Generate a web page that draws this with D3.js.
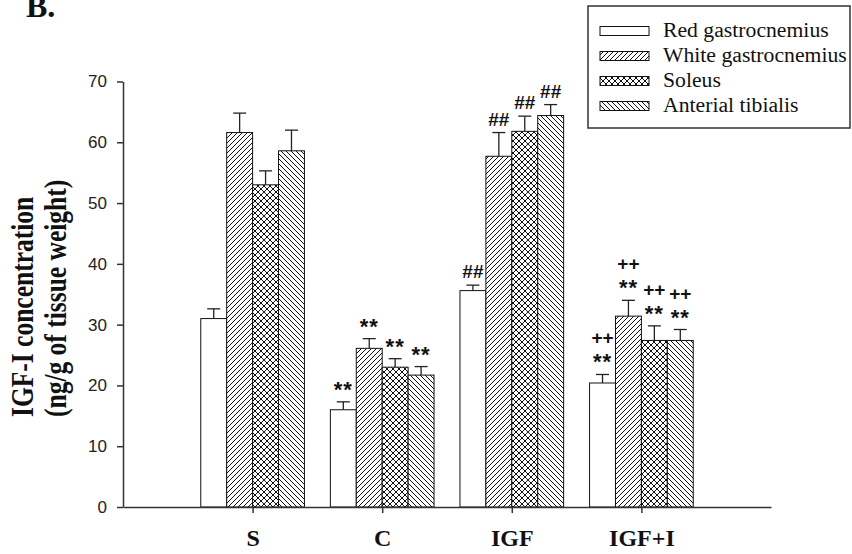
<!DOCTYPE html>
<html><head><meta charset="utf-8">
<script src="https://cdn.jsdelivr.net/npm/d3@7"></script>
<style>body{margin:0;background:#fff}svg{display:block}</style>
</head><body><svg id="c" width="852" height="554"></svg>
<script>
const categories = ["S", "C", "IGF", "IGF+I"];
const seriesNames = ["Red gastrocnemius", "White gastrocnemius", "Soleus", "Anterial tibialis"];
const redValues    = [31.0, 16.0, 35.6, 20.4];
const whiteValues  = [61.6, 26.1, 57.7, 31.4];
const soleusValues = [53.0, 23.0, 61.8, 27.4];
const atValues     = [58.6, 21.7, 64.4, 27.4];
const redErr    = [1.6, 1.3, 0.9, 1.4];
const whiteErr  = [3.2, 1.6, 3.9, 2.6];
const soleusErr = [2.3, 1.4, 2.5, 2.4];
const atErr     = [3.4, 1.4, 1.8, 1.8];
// significance marks: [lower line, upper line] per group
const redMarks    = [[], ["**"], ["##"], ["**", "++"]];
const whiteMarks  = [[], ["**"], ["##"], ["**", "++"]];
const soleusMarks = [[], ["**"], ["##"], ["**", "++"]];
const atMarks     = [[], ["**"], ["##"], ["**", "++"]];
const yTicks = [0, 10, 20, 30, 40, 50, 60, 70];
const yTitle = ["IGF-I concentration", "(ng/g of tissue weight)"];
const panelLabel = "B.";

const series = [
  {name: seriesNames[0], values: redValues, err: redErr, marks: redMarks, fill: "#fff"},
  {name: seriesNames[1], values: whiteValues, err: whiteErr, marks: whiteMarks, fill: "url(#pFwd)"},
  {name: seriesNames[2], values: soleusValues, err: soleusErr, marks: soleusMarks, fill: "url(#pCross)"},
  {name: seriesNames[3], values: atValues, err: atErr, marks: atMarks, fill: "url(#pBack)"}
];

const svg = d3.select("#c");
const defs = svg.append("defs");
function pat(id, w, d) {
  const p = defs.append("pattern").attr("id", id).attr("patternUnits", "userSpaceOnUse")
    .attr("width", w).attr("height", w);
  p.append("rect").attr("width", w).attr("height", w).attr("fill", "#fff");
  p.append("path").attr("d", d).attr("stroke", "#111").attr("stroke-width", 1).attr("fill", "none");
}
pat("pFwd", 5, "M-1,1 L1,-1 M0,5 L5,0 M4,6 L6,4");
pat("pBack", 5, "M-1,4 L1,6 M0,0 L5,5 M4,-1 L6,1");
pat("pCross", 6, "M0,0 L6,6 M6,0 L0,6 M-1,1 L1,-1 M5,7 L7,5 M-1,5 L1,7 M5,-1 L7,1");

const x = d3.scalePoint().domain(categories).range([123, 771]).padding(1);
const y = d3.scaleLinear().domain([0, 70]).range([507, 81.5]);
const bw = x.step() * 0.2;

// Bars
series.forEach((s, si) => {
  const g = svg.append("g");
  categories.forEach((c, ci) => {
    const x0 = x(c) + (si - 2) * bw;
    const v = s.values[ci], e = s.err[ci];
    const cx = x0 + bw / 2;
    g.append("line").attr("x1", cx).attr("x2", cx).attr("y1", y(v)).attr("y2", y(v + e))
      .attr("stroke", "#222").attr("stroke-width", 1.3);
    g.append("line").attr("x1", cx - 6.5).attr("x2", cx + 6.5).attr("y1", y(v + e)).attr("y2", y(v + e))
      .attr("stroke", "#222").attr("stroke-width", 1.3);
    g.append("rect").attr("x", x0).attr("y", y(v)).attr("width", bw).attr("height", y(0) - y(v))
      .attr("fill", s.fill).attr("stroke", "#111").attr("stroke-width", 1);
    s.marks[ci].forEach((m, mi) => {
      const star = m === "**";
      g.append("text").attr("x", cx).attr("y", y(v + e) - 7 - mi * 23 + (star ? 2 : 0))
        .attr("text-anchor", "middle").attr("font-family", "Liberation Sans, Arial, sans-serif")
        .attr("font-weight", "bold").attr("font-size", star ? 22 : 19)
        .attr("letter-spacing", star ? 1 : 0).attr("fill", "#111").text(m);
    });
  });
});

// Axes
const yAxis = d3.axisLeft(y).tickValues(yTicks).tickSize(6).tickPadding(10).tickSizeOuter(0);
const gy = svg.append("g").attr("transform", "translate(123,0)").call(yAxis);
gy.selectAll("text").attr("font-family", "Liberation Sans, Arial, sans-serif").attr("font-size", 17).attr("fill", "#222");
gy.selectAll("path,line").attr("stroke", "#333").attr("stroke-width", 1.5);

const xAxis = d3.axisBottom(x).tickSize(6).tickPadding(16).tickSizeOuter(0);
const gx = svg.append("g").attr("transform", "translate(0,507)").call(xAxis);
gx.selectAll("text").attr("font-family", "Liberation Serif, Times New Roman, serif").attr("font-weight", "bold")
  .attr("font-size", 24).attr("fill", "#111");
gx.selectAll("path,line").attr("stroke", "#333").attr("stroke-width", 1.5);

// Y title
yTitle.forEach((t, i) => {
  svg.append("text").attr("transform", `translate(${33 + i * 33},417) scale(1.25,1) rotate(-90)`)
    .attr("text-anchor", "start").attr("font-family", "Liberation Serif, Times New Roman, serif")
    .attr("font-weight", "bold").attr("font-size", 25.5).attr("fill", "#111").text(t);
});

// Panel label
svg.append("text").attr("x", 26).attr("y", 17).attr("font-family", "Liberation Serif, Times New Roman, serif")
  .attr("font-weight", "bold").attr("font-size", 32).attr("fill", "#111").text(panelLabel);

// Legend
const lg = svg.append("g");
lg.append("rect").attr("x", 588).attr("y", 6).attr("width", 262).attr("height", 122)
  .attr("fill", "#fff").attr("stroke", "#333").attr("stroke-width", 1.5);
series.forEach((s, i) => {
  const cy = 31 + i * 25;
  lg.append("rect").attr("x", 600).attr("y", cy - 4.5).attr("width", 49).attr("height", 9)
    .attr("fill", s.fill).attr("stroke", "#111").attr("stroke-width", 1);
  lg.append("text").attr("transform", `translate(663,${cy + 6}) scale(1.085,1)`)
    .attr("font-family", "Liberation Serif, Times New Roman, serif")
    .attr("font-size", 20).attr("fill", "#111").text(s.name);
});
</script></body></html>
